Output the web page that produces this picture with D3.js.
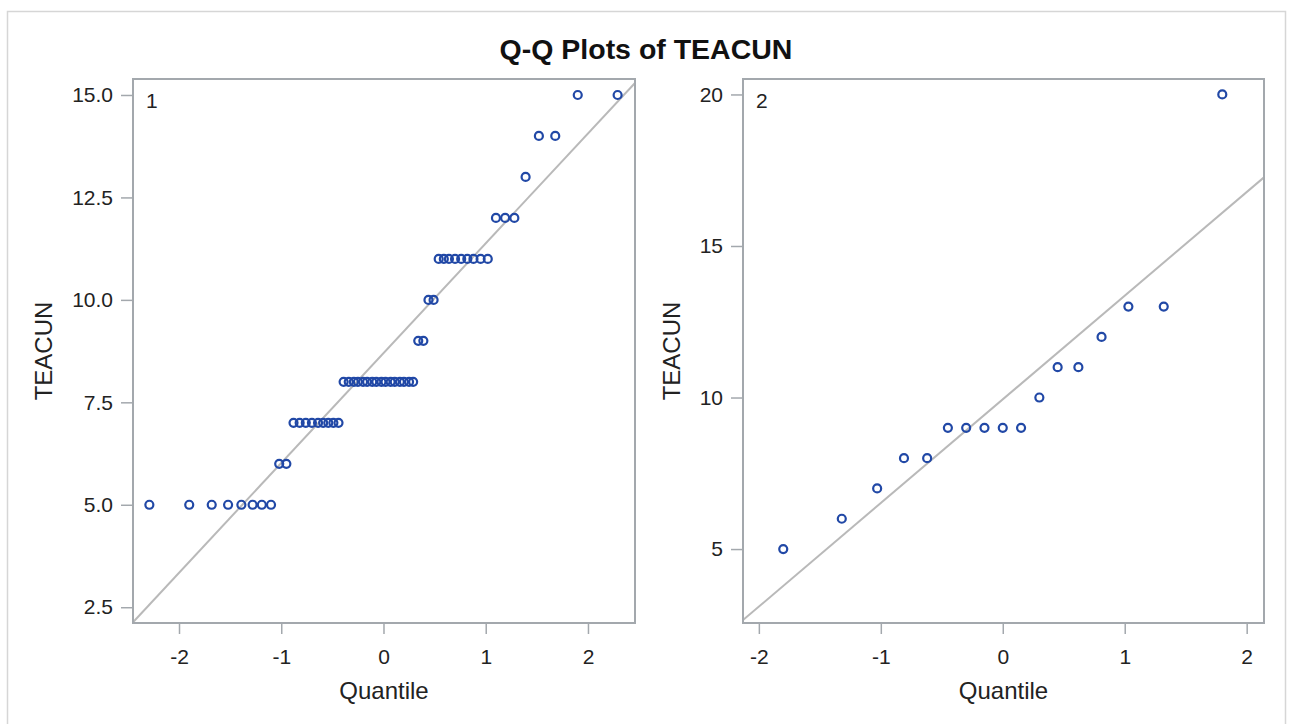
<!DOCTYPE html>
<html>
<head>
<meta charset="utf-8">
<script src="https://cdn.jsdelivr.net/npm/d3@7"></script>
<style>
  html, body { margin: 0; padding: 0; background: #fff; }
  svg { display: block; font-family: "Liberation Sans", Arial, sans-serif; }
</style>
</head>
<body>
<svg id="chart" width="1293" height="724"></svg>
<script>
// ---- data ----
const chartTitle = "Q-Q Plots of TEACUN";
const xLabel = "Quantile";
const yLabel = "TEACUN";

// Panel 1
const panel1Label = "1";
const panel1Quantiles = [-2.29,-1.90,-1.68,-1.52,-1.39,-1.28,-1.19,-1.10,
  -1.02,-0.95,
  -0.88,-0.82,-0.76,-0.70,-0.64,-0.59,-0.54,-0.49,-0.44,
  -0.39,-0.34,-0.29,-0.25,-0.20,-0.16,-0.11,-0.07,-0.02,0.02,0.07,0.11,0.16,0.20,0.25,0.29,
  0.34,0.39,
  0.44,0.49,
  0.54,0.59,0.64,0.70,0.76,0.82,0.88,0.95,1.02,
  1.10,1.19,1.28,
  1.39,
  1.52,1.68,
  1.90,2.29];
const panel1Values = [5,5,5,5,5,5,5,5,
  6,6,
  7,7,7,7,7,7,7,7,7,
  8,8,8,8,8,8,8,8,8,8,8,8,8,8,8,8,
  9,9,
  10,10,
  11,11,11,11,11,11,11,11,11,
  12,12,12,
  13,
  14,14,
  15,15];
const panel1Mu = 8.70, panel1Sigma = 2.68;
const panel1XTicks = [-2,-1,0,1,2];
const panel1YTicks = [2.5,5.0,7.5,10.0,12.5,15.0];

// Panel 2
const panel2Label = "2";
const panel2Quantiles = [-1.80,-1.32,-1.03,-0.81,-0.62,-0.45,-0.30,-0.15,0,0.15,0.30,0.45,0.62,0.81,1.03,1.32,1.80];
const panel2Values = [5,6,7,8,8,9,9,9,9,9,10,11,11,12,13,13,20];
const panel2Mu = 9.94, panel2Sigma = 3.42;
const panel2XTicks = [-2,-1,0,1,2];
const panel2YTicks = [5,10,15,20];

// ---- drawing ----
const svg = d3.select("#chart");
const textColor = "#222";
const frameColor = "#a3a8ad";
const lineColor = "#b9b9b9";
const markerColor = "#2148a6";

// outer border
svg.append("rect").attr("x", 7.5).attr("y", 11.5).attr("width", 1278).attr("height", 740)
  .attr("fill", "none").attr("stroke", "#d6d6d6").attr("stroke-width", 1.5);

svg.append("text").attr("x", 646).attr("y", 59).attr("text-anchor", "middle")
  .attr("font-size", 28.5).attr("font-weight", "bold").attr("fill", "#111").text(chartTitle);

function drawPanel(cfg) {
  const {x0, x1, y0, y1, xDom, yDom, q, v, mu, sigma, xTicks, yTicks, yFmt, label, yLabelX, id} = cfg;
  const x = d3.scaleLinear().domain(xDom).range([x0, x1]);
  const y = d3.scaleLinear().domain(yDom).range([y1, y0]);
  const g = svg.append("g");

  g.append("clipPath").attr("id", id).append("rect")
    .attr("x", x0).attr("y", y0).attr("width", x1 - x0).attr("height", y1 - y0);

  // reference line
  const lx = xDom;
  g.append("line").attr("clip-path", `url(#${id})`)
    .attr("x1", x(lx[0])).attr("y1", y(mu + sigma * lx[0]))
    .attr("x2", x(lx[1])).attr("y2", y(mu + sigma * lx[1]))
    .attr("stroke", lineColor).attr("stroke-width", 2);

  // x axis
  const xa = g.append("g").attr("transform", `translate(0,${y1})`)
    .call(d3.axisBottom(x).tickValues(xTicks).tickSize(11).tickPadding(15).tickFormat(d => String(d)));
  xa.select(".domain").remove();
  xa.selectAll(".tick line").attr("stroke", frameColor).attr("stroke-width", 1.5);
  xa.selectAll(".tick text").attr("font-size", 21).attr("fill", textColor)
    .attr("font-family", "'Liberation Sans', Arial, sans-serif");

  // y axis
  const ya = g.append("g").attr("transform", `translate(${x0},0)`)
    .call(d3.axisLeft(y).tickValues(yTicks).tickSize(12).tickPadding(8).tickFormat(yFmt));
  ya.select(".domain").remove();
  ya.selectAll(".tick line").attr("stroke", frameColor).attr("stroke-width", 1.5);
  ya.selectAll(".tick text").attr("font-size", 21).attr("fill", textColor)
    .attr("font-family", "'Liberation Sans', Arial, sans-serif");

  // frame
  g.append("rect").attr("x", x0).attr("y", y0).attr("width", x1 - x0).attr("height", y1 - y0)
    .attr("fill", "none").attr("stroke", frameColor).attr("stroke-width", 2);

  // markers
  g.selectAll("circle.pt").data(q.map((d, i) => [d, v[i]])).join("circle")
    .attr("class", "pt")
    .attr("cx", d => x(d[0])).attr("cy", d => y(d[1])).attr("r", 4)
    .attr("fill", "none").attr("stroke", markerColor).attr("stroke-width", 2.2);

  // panel label
  g.append("text").attr("x", x0 + 13).attr("y", y0 + 29).attr("font-size", 21)
    .attr("fill", textColor).text(label);

  // axis labels
  g.append("text").attr("x", (x0 + x1) / 2).attr("y", 699).attr("text-anchor", "middle")
    .attr("font-size", 24).attr("fill", textColor).text(xLabel);
  g.append("text").attr("transform", `translate(${yLabelX},${(y0 + y1) / 2}) rotate(-90)`)
    .attr("text-anchor", "middle").attr("font-size", 24).attr("fill", textColor).text(yLabel);
}

drawPanel({
  id: "clip1", x0: 133, x1: 635, y0: 79, y1: 623,
  xDom: [-2.45, 2.46], yDom: [2.115, 15.39],
  q: panel1Quantiles, v: panel1Values, mu: panel1Mu, sigma: panel1Sigma,
  xTicks: panel1XTicks, yTicks: panel1YTicks, yFmt: d3.format(".1f"),
  label: panel1Label, yLabelX: 52
});
drawPanel({
  id: "clip2", x0: 743, x1: 1264, y0: 79, y1: 623,
  xDom: [-2.13, 2.142], yDom: [2.56, 20.51],
  q: panel2Quantiles, v: panel2Values, mu: panel2Mu, sigma: panel2Sigma,
  xTicks: panel2XTicks, yTicks: panel2YTicks, yFmt: d3.format("d"),
  label: panel2Label, yLabelX: 680
});
</script>
</body>
</html>
